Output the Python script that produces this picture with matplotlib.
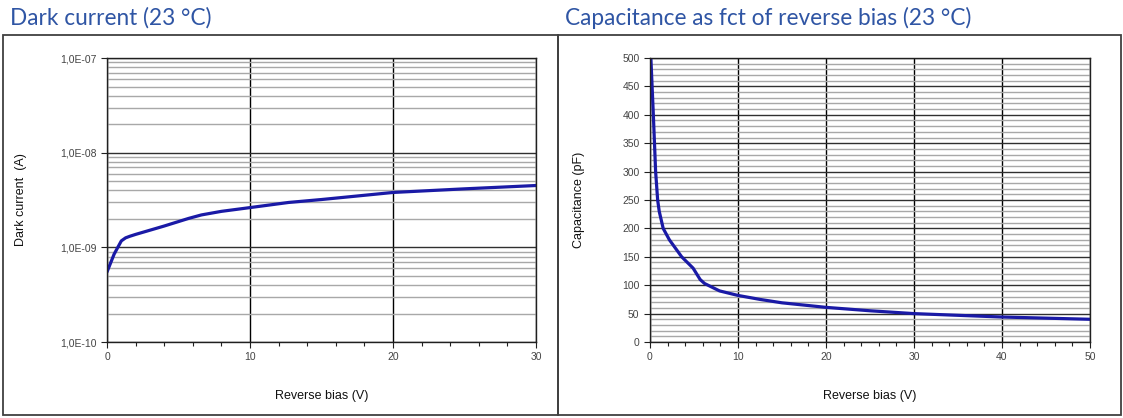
import numpy as np
import matplotlib
matplotlib.use("Agg")
import matplotlib.pyplot as plt
from matplotlib.ticker import MultipleLocator, LogLocator, FuncFormatter, NullFormatter
from matplotlib.patches import Rectangle

# Data
dark_v = [0, 0.5, 1.0, 1.3, 1.6, 2, 4, 5.7, 6.6, 8, 10, 12.7, 15, 20, 25, 30]
dark_i = [5.5e-10, 8.5e-10, 1.17e-9, 1.26e-9, 1.31e-9, 1.37e-9, 1.68e-9, 2.02e-9,
          2.2e-9, 2.4e-9, 2.63e-9, 2.98e-9, 3.2e-9, 3.8e-9, 4.15e-9, 4.5e-9]

cap_v = [0.1, 0.38, 0.64, 0.87, 1.05, 1.5, 2.2, 3.6, 4.9, 5.7, 6.2, 7.9, 10, 12.5,
         15, 20, 25, 30, 35, 40, 45, 50]
cap_pf = [500, 400, 300, 250, 230, 200, 180, 150, 130, 110, 103, 90, 82, 75,
          69, 61, 55, 50, 47, 44, 42, 40]

title_left = "Dark current (23 °C)"
title_right = "Capacitance as fct of reverse bias (23 °C)"

LINE_COLOR = "#1a1aa6"
TITLE_COLOR = "#2f55a4"
MINOR_GRID = "#a8a8a8"
MAJOR_GRID = "#303030"

plt.rcParams['font.family'] = ['Liberation Sans', 'DejaVu Sans']

fig = plt.figure(figsize=(11.23, 4.18), dpi=100)

# panel frames
for x0, w in [(0.0027, 0.4942), (0.4969, 0.5013)]:
    fig.patches.append(Rectangle((0 + x0, 0.006), w, 0.910, transform=fig.transFigure,
                                 fill=False, edgecolor="#404040", linewidth=1.3))

fig.text(0.009, 0.957, title_left, color=TITLE_COLOR, fontsize=16.3,
         family=['Lato', 'DejaVu Sans'], va='center')
fig.text(0.503, 0.957, title_right, color=TITLE_COLOR, fontsize=16.3,
         family=['Lato', 'DejaVu Sans'], va='center')


def style_axes(ax):
    for s in ax.spines.values():
        s.set_color("#202020")
        s.set_linewidth(1.0)
    ax.tick_params(which='major', direction='out', length=4, width=0.8,
                   labelsize=7.5, labelcolor="#444444", color="#202020")
    ax.tick_params(which='minor', direction='out', length=3, width=0.8, color="#202020")
    ax.set_axisbelow(True)


# ---- left: dark current ----
ax1 = fig.add_axes([0.0953, 0.1818, 0.382, 0.6794])
ax1.plot(dark_v, dark_i, color=LINE_COLOR, linewidth=2.3, solid_capstyle='round')
ax1.set_yscale('log')
ax1.set_xlim(0, 30)
ax1.set_ylim(1e-10, 1e-7)
ax1.xaxis.set_major_locator(MultipleLocator(10))
ax1.xaxis.set_minor_locator(MultipleLocator(2))
ax1.yaxis.set_major_locator(LogLocator(base=10, numticks=10))
ax1.yaxis.set_minor_locator(LogLocator(base=10, subs=np.arange(2, 10), numticks=20))
ax1.yaxis.set_minor_formatter(NullFormatter())
ax1.yaxis.set_major_formatter(FuncFormatter(lambda v, p: ("%.1E" % v).replace(".", ",")))
style_axes(ax1)
ax1.tick_params(axis='y', which='minor', length=0)
ax1.grid(which='minor', axis='y', color=MINOR_GRID, linewidth=1.0)
ax1.grid(which='major', axis='y', color=MAJOR_GRID, linewidth=1.0)
ax1.grid(which='major', axis='x', color="#000000", linewidth=1.0)
ax1.set_xlabel("Reverse bias (V)", fontsize=9, labelpad=20, color="#111111")
ax1.set_ylabel("Dark current  (A)", fontsize=9, labelpad=24, color="#111111")

# ---- right: capacitance ----
ax2 = fig.add_axes([0.5788, 0.1818, 0.3918, 0.6794])
ax2.plot(cap_v, cap_pf, color=LINE_COLOR, linewidth=2.3, solid_capstyle='round')
ax2.set_xlim(0, 50)
ax2.set_ylim(0, 500)
ax2.xaxis.set_major_locator(MultipleLocator(10))
ax2.xaxis.set_minor_locator(MultipleLocator(2))
ax2.yaxis.set_major_locator(MultipleLocator(50))
ax2.yaxis.set_minor_locator(MultipleLocator(10))
style_axes(ax2)
ax2.tick_params(axis='y', which='minor', length=0)
ax2.grid(which='minor', axis='y', color=MINOR_GRID, linewidth=1.0)
ax2.grid(which='major', axis='y', color=MAJOR_GRID, linewidth=1.0)
ax2.grid(which='major', axis='x', color="#000000", linewidth=1.0)
ax2.set_xlabel("Reverse bias (V)", fontsize=9, labelpad=20, color="#111111")
ax2.set_ylabel("Capacitance (pF)", fontsize=9, labelpad=27, color="#111111")

fig.savefig("out.png", dpi=100)
